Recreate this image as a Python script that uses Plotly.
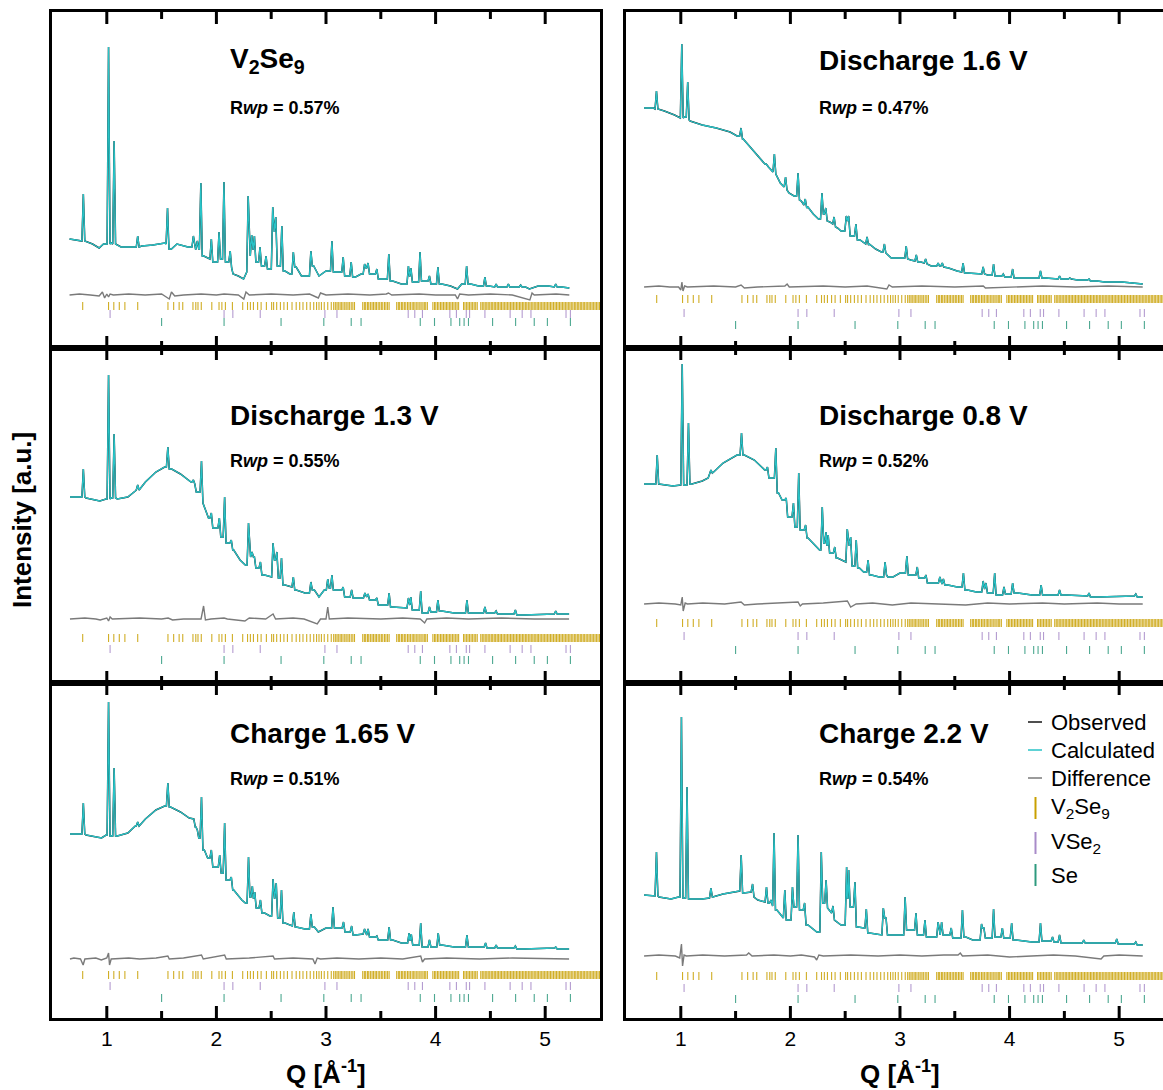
import plotly.graph_objects as go

# ---------------------------------------------------------------------------
# Reflection positions of the refined phases, Q in 1/Å
# ---------------------------------------------------------------------------
V2SE9_REFLECTIONS = [
    0.78, 1.016, 1.064, 1.114, 1.165, 1.282, 1.558, 1.61, 1.66, 1.693, 1.786, 1.812,
    1.832, 1.862, 1.958, 2.024, 2.05, 2.082, 2.146, 2.24, 2.284, 2.31, 2.338, 2.376,
    2.408, 2.456, 2.504, 2.522, 2.55, 2.584, 2.616, 2.648, 2.69, 2.728, 2.76, 2.79,
    2.824, 2.856, 2.888, 2.914, 2.936, 2.958, 2.984, 3.016, 3.048,
    3.07, 3.085, 3.10, 3.112, 3.128, 3.14, 3.155, 3.171, 3.184, 3.20, 3.213, 3.23,
    3.245, 3.26, 3.335, 3.35, 3.362, 3.378, 3.39, 3.405, 3.42, 3.433, 3.448, 3.46,
    3.476, 3.49, 3.505, 3.518, 3.534, 3.547, 3.562, 3.576, 3.645, 3.66, 3.672, 3.688,
    3.70, 3.715, 3.728, 3.744, 3.757, 3.77, 3.786, 3.80, 3.812, 3.828, 3.84, 3.856,
    3.868, 3.884, 3.897, 3.91, 3.925, 3.975, 3.99, 4.002, 4.017, 4.03, 4.045, 4.058,
    4.072, 4.086, 4.10, 4.113, 4.128, 4.14, 4.155, 4.168, 4.183, 4.196, 4.21, 4.255,
    4.268, 4.283, 4.296, 4.31, 4.324, 4.338, 4.352, 4.366, 4.38, 4.412, 4.426, 4.44,
    4.453, 4.467, 4.48, 4.494, 4.508, 4.521, 4.535, 4.548, 4.562, 4.575, 4.589, 4.602,
    4.616, 4.63, 4.643, 4.657, 4.67, 4.684, 4.697, 4.71, 4.724, 4.738, 4.751, 4.765,
    4.778, 4.792, 4.805, 4.819, 4.832, 4.846, 4.86, 4.873, 4.887, 4.90, 4.914, 4.927,
    4.94, 4.954, 4.968, 4.981, 4.995, 5.008, 5.022, 5.035, 5.049, 5.062, 5.076, 5.09,
    5.103, 5.117, 5.13, 5.144, 5.157, 5.171, 5.184, 5.198, 5.211, 5.225, 5.238, 5.252,
    5.266, 5.279, 5.293, 5.306, 5.32, 5.333, 5.347, 5.36, 5.374, 5.388, 5.401, 5.415,
    5.428, 5.442, 5.455, 5.469, 5.482, 5.496,
]
VSE2_REFLECTIONS = [1.03, 2.07, 2.15, 2.40, 2.99, 3.10, 3.75, 3.81, 3.88, 4.13, 4.19,
                    4.28, 4.31, 4.45, 4.68, 4.79, 4.87, 5.19, 5.23]
SE_REFLECTIONS = [1.50, 2.07, 2.59, 2.98, 3.23, 3.32, 3.86, 3.99, 4.14, 4.22, 4.26,
                  4.30, 4.52, 4.73, 4.90, 5.02, 5.23]

# ---------------------------------------------------------------------------
# Refinement profiles (intensity in a.u.)
#   *_BG    : background vertices (Q, I)
#   *_PEAKS : Bragg peaks (Q, top, base) or (Q, top, base left, base right)
#   *_DIFF  : difference curve vertices (Q, Iobs - Icalc)
# ---------------------------------------------------------------------------
PRISTINE_BG = [(0.66, 109), (0.76, 107), (0.87, 104), (0.93, 100), (0.97, 104), (1.04, 105),
               (1.13, 101), (1.22, 101), (1.32, 102), (1.42, 103), (1.53, 105), (1.59, 99),
               (1.64, 104), (1.74, 101), (1.81, 99), (1.885, 92), (1.93, 89), (1.985, 86),
               (2.046, 89), (2.10, 86), (2.152, 74), (2.20, 72), (2.248, 69), (2.27, 76),
               (2.37, 86), (2.424, 82), (2.478, 79), (2.568, 82), (2.626, 77), (2.67, 74),
               (2.728, 81), (2.776, 72), (2.824, 72), (2.888, 82), (2.936, 72), (3.0, 77),
               (3.086, 76), (3.186, 72), (3.27, 71), (3.32, 74), (3.416, 74), (3.512, 69),
               (3.608, 67), (3.688, 64), (3.81, 66), (3.896, 67), (3.976, 64), (4.056, 64),
               (4.136, 62), (4.20, 59), (4.238, 64), (4.32, 64), (4.392, 62), (4.488, 62),
               (4.60, 61), (4.72, 61), (4.82, 61), (4.856, 59), (4.936, 62), (5.03, 62),
               (5.15, 61), (5.22, 60)]
PRISTINE_PEAKS = [(0.786, 154, 107), (1.016, 301, 104), (1.067, 207, 104), (1.282, 112, 101),
                  (1.554, 140, 104, 99), (1.79, 112, 101), (1.826, 107, 99, 99),
                  (1.858, 165, 99, 92), (1.954, 109, 89, 86), (2.024, 116, 86, 89),
                  (2.069, 166, 89, 86), (2.126, 97, 86, 80), (2.29, 152, 76, 92),
                  (2.322, 113, 92, 98), (2.347, 112, 98, 86), (2.398, 101, 86, 82),
                  (2.453, 92, 82, 79), (2.514, 141, 79, 116), (2.542, 131, 116, 82),
                  (2.597, 122, 82, 77), (2.702, 96, 74, 81), (2.862, 97, 72, 82),
                  (3.054, 107, 77, 76), (3.157, 91, 76, 72), (3.23, 86, 72, 71),
                  (3.352, 84, 74, 80), (3.384, 85, 80, 74), (3.464, 79, 74, 69),
                  (3.573, 94, 69, 67), (3.752, 82, 64, 72), (3.775, 80, 72, 66),
                  (3.858, 96, 66, 67), (3.944, 72, 67, 64), (4.021, 81, 64, 64),
                  (4.283, 82, 64, 64), (4.45, 71, 62, 62), (4.552, 64, 61, 61),
                  (4.664, 64, 61, 61), (4.776, 63, 61, 61), (5.096, 64, 61, 61)]
PRISTINE_DIFF = [(0.66, 0), (0.75, 1), (0.85, 0), (0.93, -1), (0.96, 3), (0.98, -3), (1.0, 1),
                 (1.016, -2), (1.03, 1), (1.06, 0), (1.2, 1), (1.35, 0), (1.5, 1), (1.57, -4),
                 (1.59, 3), (1.62, -1), (1.7, 0), (1.86, 1), (2.0, 0), (2.07, 1), (2.2, 0),
                 (2.25, -4), (2.27, 3), (2.3, 0), (2.5, 1), (2.7, 0), (2.85, 1), (2.93, -3),
                 (2.95, 2), (3.0, 0), (3.2, 1), (3.4, 0), (3.55, 1), (3.57, 2), (3.6, 0),
                 (3.85, 1), (4.0, 0), (4.18, 0), (4.2, -4), (4.22, 1), (4.3, 0), (4.5, 1),
                 (4.7, 0), (4.86, -5), (4.88, 2), (4.9, 0), (5.1, 1), (5.22, 0)]

DIS16_BG = [(0.665, 240), (0.75, 240), (0.85, 237), (0.943, 233), (0.99, 230), (1.035, 231),
            (1.085, 227), (1.196, 223), (1.323, 220), (1.45, 216), (1.513, 212), (1.57, 209),
            (1.64, 200), (1.703, 192), (1.75, 187), (1.80, 181), (1.908, 165), (1.987, 155),
            (2.033, 152), (2.10, 147), (2.16, 141), (2.209, 134), (2.256, 129), (2.36, 126),
            (2.43, 120), (2.462, 117), (2.557, 112), (2.636, 108), (2.72, 104), (2.778, 99),
            (2.83, 96), (2.92, 90), (3.0, 90), (3.10, 88), (3.19, 86), (3.285, 82),
            (3.443, 80), (3.522, 77), (3.617, 75), (3.696, 74), (3.80, 73), (3.886, 72),
            (3.98, 71), (4.076, 70), (4.203, 70), (4.33, 70), (4.519, 69), (4.62, 68),
            (4.709, 68), (4.80, 67), (4.867, 66), (5.025, 66), (5.215, 64)]
DIS16_PEAKS = [(0.778, 257, 239), (1.009, 304, 230), (1.063, 266, 231, 228),
               (1.55, 220, 212, 209), (1.78, 184, 184, 182), (1.854, 194, 176, 174),
               (1.956, 171, 161, 158), (2.07, 175, 152, 148), (2.136, 149, 143, 140),
               (2.288, 155, 129, 134), (2.323, 140, 134, 127), (2.399, 131, 124, 121),
               (2.51, 132, 117, 127), (2.532, 132, 127, 112), (2.598, 124, 112, 108),
               (2.70, 111, 104, 103), (2.858, 104, 96, 95), (3.057, 102, 90, 89),
               (3.149, 93, 87, 86), (3.234, 89, 85, 84), (3.348, 85, 82, 82),
               (3.386, 85, 82, 81), (3.576, 85, 76, 75), (3.759, 81, 74, 74),
               (3.854, 84, 73, 72), (3.943, 74, 72, 71), (4.028, 79, 71, 70),
               (4.282, 77, 70, 70), (4.456, 72, 69, 69), (4.55, 70, 69, 69), (4.725, 69, 68, 67)]
DIS16_DIFF = [(0.665, 0), (0.8, 1), (0.9, 0), (0.98, 0), (1.0, -3), (1.01, 5), (1.02, -4),
              (1.035, 1), (1.06, 0), (1.3, 1), (1.5, 0), (1.55, 2), (1.58, -1), (1.7, 0),
              (1.95, 1), (1.97, 3), (1.99, 0), (2.3, 1), (2.5, 0), (2.7, 1), (2.88, -2),
              (2.9, 2), (2.93, 0), (3.2, 1), (3.5, 0), (3.76, 1), (3.78, -1), (4.0, 0),
              (4.3, 1), (4.6, 0), (4.9, 1), (5.215, 0)]

DIS13_BG = [(0.664, 186), (0.76, 186), (0.81, 185), (0.936, 182), (0.994, 184), (1.04, 185),
            (1.096, 184), (1.192, 186), (1.26, 192), (1.352, 201), (1.448, 211), (1.528, 216),
            (1.592, 214), (1.672, 209), (1.768, 201), (1.816, 191), (1.928, 165), (1.986, 155),
            (2.05, 146), (2.104, 140), (2.158, 133), (2.216, 123), (2.264, 118), (2.376, 115),
            (2.44, 108), (2.488, 106), (2.568, 105), (2.626, 98), (2.68, 96), (2.728, 93),
            (2.808, 90), (2.894, 93), (2.936, 86), (2.984, 93), (3.086, 93), (3.192, 86),
            (3.272, 85), (3.416, 83), (3.512, 78), (3.608, 76), (3.688, 75), (3.816, 73),
            (3.906, 70), (3.976, 71), (4.056, 72), (4.168, 70), (4.328, 70), (4.392, 70),
            (4.504, 70), (4.648, 69), (4.808, 68), (4.968, 69), (5.218, 69)]
DIS13_PEAKS = [(0.786, 214, 186), (1.016, 308, 184), (1.067, 249, 185), (1.282, 198, 193),
               (1.557, 236, 216, 214), (1.79, 203, 201, 199), (1.864, 222, 191, 180),
               (1.954, 170, 165, 155), (2.027, 165, 155, 146), (2.075, 186, 146, 140),
               (2.136, 143, 140, 133), (2.293, 160, 118, 126), (2.325, 131, 126, 126),
               (2.347, 126, 126, 115), (2.402, 121, 115, 108), (2.517, 140, 106, 123),
               (2.552, 131, 123, 105), (2.594, 125, 105, 98), (2.702, 106, 96, 93),
               (2.862, 101, 90, 93), (3.016, 104, 93, 95), (3.054, 108, 95, 93),
               (3.157, 96, 93, 86), (3.234, 93, 86, 85), (3.355, 90, 85, 86),
               (3.384, 89, 86, 83), (3.464, 85, 83, 78), (3.576, 90, 78, 76),
               (3.752, 85, 75, 78), (3.774, 86, 78, 73), (3.864, 92, 73, 70),
               (3.944, 76, 70, 71), (4.021, 83, 71, 72), (4.286, 83, 70, 70),
               (4.45, 76, 70, 70), (4.552, 72, 70, 69), (4.728, 73, 69, 68), (5.096, 72, 69, 69)]
DIS13_DIFF = [(0.664, 0), (0.8, 1), (0.9, 0), (0.94, -1), (1.0, 1), (1.016, -2), (1.03, 2),
              (1.05, 0), (1.3, 1), (1.5, 0), (1.56, 1), (1.6, -1), (1.7, 0), (1.86, 0),
              (1.883, 13), (1.9, -1), (1.95, 0), (2.07, 1), (2.1, 0), (2.26, -2), (2.3, 1),
              (2.45, 0), (2.517, 5), (2.54, 0), (2.7, 1), (2.8, 0), (2.92, -5), (2.95, 0),
              (3.0, 0), (3.016, 12), (3.03, 0), (3.2, 1), (3.5, 0), (3.7, 1), (3.86, 0),
              (3.9, -4), (3.92, 0), (4.1, 1), (4.3, 0), (4.6, 1), (4.9, 0), (5.218, 0)]

DIS08_BG = [(0.665, 199), (0.753, 199), (0.80, 199), (0.927, 197), (0.99, 198), (1.04, 198),
            (1.101, 199), (1.196, 202), (1.25, 205), (1.30, 211), (1.386, 220), (1.513, 228),
            (1.58, 228), (1.671, 223), (1.766, 213), (1.892, 190), (1.924, 183), (1.987, 166),
            (2.05, 156), (2.098, 153), (2.161, 145), (2.225, 137), (2.266, 133), (2.367, 130),
            (2.43, 125), (2.494, 121), (2.573, 117), (2.63, 115), (2.668, 111), (2.74, 108),
            (2.81, 106), (2.889, 106), (2.937, 106), (3.0, 110), (3.095, 108), (3.19, 105),
            (3.285, 100), (3.437, 98), (3.522, 96), (3.617, 93), (3.696, 91), (3.823, 90),
            (3.902, 88), (3.981, 89), (4.076, 90), (4.203, 88), (4.33, 88), (4.519, 88),
            (4.65, 87), (4.804, 86), (5.025, 87), (5.215, 86)]
DIS08_PEAKS = [(0.785, 228, 199), (1.013, 319, 198), (1.07, 260, 198, 199), (1.275, 213, 208, 210),
               (1.554, 250, 228), (1.791, 216, 213, 205), (1.867, 235, 205, 190),
               (1.962, 185, 183, 166), (2.028, 180, 166, 156), (2.076, 210, 156, 153),
               (2.139, 158, 153, 145), (2.291, 176, 133, 140), (2.326, 151, 140, 138),
               (2.345, 148, 138, 130), (2.405, 136, 130, 125), (2.519, 154, 121, 137),
               (2.55, 146, 137, 117), (2.601, 143, 117, 115), (2.709, 123, 111, 108),
               (2.864, 121, 106, 108), (3.063, 127, 110, 108), (3.158, 116, 108, 105),
               (3.237, 108, 105, 100), (3.364, 106, 100, 99), (3.396, 104, 99, 98),
               (3.579, 110, 96, 93), (3.759, 102, 91, 94), (3.785, 100, 94, 90),
               (3.864, 110, 90, 88), (3.949, 96, 88, 89), (4.028, 100, 89, 90),
               (4.288, 98, 88, 88), (4.456, 93, 88, 88), (4.725, 90, 87, 86), (5.152, 89, 87, 86)]
DIS08_DIFF = [(0.665, 0), (0.8, 1), (0.95, 0), (1.0, -1), (1.013, 7), (1.022, -7), (1.04, 1),
              (1.06, 0), (1.2, 1), (1.4, 0), (1.55, 2), (1.58, -1), (1.7, 0), (1.9, 1),
              (2.07, 2), (2.09, -2), (2.11, 0), (2.3, 1), (2.52, 3), (2.55, -3), (2.6, 0),
              (2.75, 1), (2.93, -1), (3.1, 1), (3.3, 0), (3.6, -1), (3.8, 1), (4.0, 0),
              (4.3, 1), (4.5, 0), (4.8, 1), (5.0, 0), (5.215, 0)]

CHG165_BG = [(0.664, 184), (0.76, 184), (0.81, 183), (0.952, 180), (0.994, 183), (1.04, 182),
             (1.096, 182), (1.192, 185), (1.26, 192), (1.352, 199), (1.448, 208), (1.528, 212),
             (1.582, 211), (1.672, 206), (1.752, 200), (1.89, 168), (1.92, 160), (1.992, 151),
             (2.05, 145), (2.104, 138), (2.158, 128), (2.232, 118), (2.264, 115), (2.376, 110),
             (2.44, 105), (2.488, 102), (2.568, 100), (2.626, 95), (2.68, 92), (2.728, 91),
             (2.808, 89), (2.894, 91), (2.93, 86), (3.0, 90), (3.096, 90), (3.186, 86),
             (3.272, 83), (3.416, 81), (3.512, 78), (3.608, 78), (3.688, 75), (3.816, 73),
             (3.906, 71), (3.976, 71), (4.056, 73), (4.168, 71), (4.32, 71), (4.392, 71),
             (4.504, 70), (4.648, 70), (4.808, 69), (4.968, 70), (5.218, 69)]
CHG165_PEAKS = [(0.786, 215, 184), (1.016, 316, 183, 182), (1.067, 250, 182), (1.282, 196, 192),
                (1.557, 235, 212, 211), (1.794, 199, 199, 191), (1.826, 188, 191, 180),
                (1.864, 221, 180, 168), (1.954, 168, 160, 151), (2.03, 163, 151, 145),
                (2.075, 195, 145, 138), (2.136, 141, 138, 128), (2.293, 161, 115, 121),
                (2.328, 132, 121, 120), (2.35, 126, 120, 110), (2.402, 118, 110, 105),
                (2.517, 139, 102, 120), (2.546, 135, 120, 100), (2.594, 128, 100, 95),
                (2.706, 106, 92, 91), (2.862, 104, 89, 91), (3.064, 111, 90, 90),
                (3.16, 96, 90, 86), (3.234, 92, 86, 83), (3.352, 89, 84, 83),
                (3.384, 89, 83, 81), (3.464, 82, 81, 78), (3.576, 91, 78, 78),
                (3.758, 85, 75, 78), (3.778, 84, 78, 73), (3.864, 95, 73, 71),
                (3.944, 78, 71, 71), (4.024, 85, 71, 73), (4.286, 83, 71, 71),
                (4.456, 75, 71, 70), (4.552, 73, 70, 70), (4.728, 72, 70, 69), (5.096, 71, 70, 69)]
CHG165_DIFF = [(0.664, 0), (0.7, 1), (0.76, 0), (0.784, -6), (0.80, 0), (0.9, 1), (0.95, -1),
               (1.0, 1), (1.016, 6), (1.025, -6), (1.04, 0), (1.2, 1), (1.3, 0), (1.45, 1),
               (1.557, 3), (1.57, 0), (1.7, 1), (1.864, 4), (1.88, 0), (2.075, 4), (2.09, 0),
               (2.3, 1), (2.517, 3), (2.53, 0), (2.7, 1), (2.88, 0), (2.9, -5), (2.92, 1),
               (2.95, 0), (3.1, 1), (3.3, 0), (3.5, 1), (3.7, 0), (3.864, 3), (3.88, -3),
               (3.9, 0), (4.1, 1), (4.4, 0), (4.7, 1), (5.0, 0), (5.218, 0)]

CHG22_BG = [(0.665, 123), (0.753, 122), (0.80, 121), (0.911, 119), (0.98, 121), (1.032, 120),
            (1.085, 119), (1.196, 119), (1.291, 121), (1.386, 124), (1.513, 127), (1.576, 125),
            (1.62, 126), (1.703, 118), (1.804, 115), (1.877, 108), (1.987, 98), (2.161, 93),
            (2.241, 86), (2.462, 93), (2.62, 91), (2.668, 90), (2.722, 85), (2.81, 83),
            (2.911, 83), (2.968, 83), (3.079, 88), (3.177, 83), (3.269, 81), (3.411, 83),
            (3.522, 80), (3.601, 81), (3.664, 78), (3.807, 80), (3.892, 81), (3.965, 80),
            (4.06, 78), (4.203, 76), (4.32, 77), (4.519, 75), (4.788, 75), (5.089, 74),
            (5.215, 73)]
CHG22_PEAKS = [(0.778, 166, 122), (1.006, 301, 121, 120), (1.057, 231, 120, 119),
               (1.275, 130, 120, 121), (1.551, 163, 127, 125), (1.655, 134, 126, 121),
               (1.782, 131, 116, 115), (1.823, 118, 115, 112), (1.851, 185, 112, 108),
               (1.949, 128, 100, 98), (2.019, 131, 98, 111), (2.07, 183, 111, 108),
               (2.13, 115, 108, 93), (2.282, 166, 86, 115), (2.326, 138, 115, 110),
               (2.389, 112, 105, 98), (2.513, 151, 93, 120), (2.532, 148, 120, 111),
               (2.589, 136, 111, 91), (2.693, 109, 90, 85), (2.848, 110, 83, 100),
               (2.873, 100, 100, 83), (3.047, 121, 83, 88), (3.146, 105, 88, 83),
               (3.228, 98, 83, 81), (3.348, 96, 81, 83), (3.38, 96, 83, 83),
               (3.468, 90, 83, 80), (3.57, 108, 80, 81), (3.744, 94, 78, 90),
               (3.766, 90, 90, 80), (3.854, 109, 80, 81), (3.934, 90, 81, 80),
               (4.019, 95, 80, 78), (4.282, 95, 76, 77), (4.392, 81, 77, 76),
               (4.456, 83, 76, 75), (4.677, 78, 75, 75), (4.978, 79, 75, 74), (5.152, 76, 74, 73)]
CHG22_DIFF = [(0.665, 0), (0.8, 1), (0.95, 0), (0.99, -2), (1.006, 12), (1.016, -10), (1.03, 1),
              (1.05, 0), (1.2, 1), (1.4, 0), (1.6, 1), (1.62, 3), (1.65, 0), (1.85, 1),
              (2.0, 0), (2.1, 1), (2.22, -1), (2.24, -4), (2.26, 1), (2.3, 0), (2.55, 1),
              (2.8, 0), (3.0, 1), (3.2, 0), (3.4, 1), (3.53, 1), (3.55, 3), (3.57, 0),
              (3.8, 1), (4.0, -1), (4.2, 0), (4.4, 1), (4.6, 0), (4.835, -3), (4.86, 0),
              (5.0, 1), (5.215, 0)]

PANEL_LABELS = ["V<sub>2</sub>Se<sub>9</sub>", "Discharge 1.6 V", "Discharge 1.3 V",
                "Discharge 0.8 V", "Charge 1.65 V", "Charge 2.2 V"]
RWP_PERCENT = [0.57, 0.47, 0.55, 0.52, 0.51, 0.54]
MAJOR_TICKS = [1, 2, 3, 4, 5]
MINOR_TICKS = [1.5, 2.5, 3.5, 4.5]

BACKGROUNDS = [PRISTINE_BG, DIS16_BG, DIS13_BG, DIS08_BG, CHG165_BG, CHG22_BG]
PEAK_LISTS = [PRISTINE_PEAKS, DIS16_PEAKS, DIS13_PEAKS, DIS08_PEAKS, CHG165_PEAKS, CHG22_PEAKS]
DIFFERENCES = [PRISTINE_DIFF, DIS16_DIFF, DIS13_DIFF, DIS08_DIFF, CHG165_DIFF, CHG22_DIFF]

# ---------------------------------------------------------------------------
# Page geometry and styling
# ---------------------------------------------------------------------------
W, H = 1163, 1090
FONT = "Liberation Sans, Arial, sans-serif"
C_OBS = "#151515"
C_CALC = "#28C3C7"
C_DIFF = "#7a7a7a"
C_V2SE9 = "#C9A000"
C_VSE2 = "#A88BC9"
C_SE = "#2E9A7E"

COL_PX = [(52, 600), (626, 1163)]
ROW_PX = [(12, 348), (348, 683), (683, 1018)]
X_RANGES = [(0.5, 5.5), (0.5, 5.4)]
PEAK_HALF_WIDTH = 0.013
TICK_HALF = 4
MAJOR_LEN, MINOR_LEN = 12, 7   # frame tick lengths in pixels

# vertical placement (a.u.) of the difference curve and reflection rows
OFFSETS = [
    dict(diff=53, v2se9=42, vse2=34, se=26),
    dict(diff=61, v2se9=49, vse2=35, se=23),
    dict(diff=64, v2se9=45, vse2=34, se=23),
    dict(diff=79, v2se9=60, vse2=47, se=33),
    dict(diff=59, v2se9=43, vse2=32, se=20),
    dict(diff=62, v2se9=42, vse2=30, se=19),
]
TITLE_Y_PX = [(60, 108), (415, 461), (733, 779)]
TITLE_X_PX = [228, 817]


def px_x(x):
    return x / W


def px_y(y):
    return 1 - y / H


def build_profile(background, peaks, hw):
    """Join background vertices and peak apexes into one polyline."""
    centres = [p[0] for p in peaks]
    pts = [(q, i) for q, i in background if all(abs(q - c) > 1.2 * hw for c in centres)]
    for p in peaks:
        q, top, left = p[0], p[1], p[2]
        right = p[3] if len(p) > 3 else p[2]
        pts += [(q - hw, left), (q, top), (q + hw, right)]
    pts.sort()
    return [a for a, _ in pts], [b for _, b in pts]


def tick_segments(positions, centre, half):
    xs, ys = [], []
    for q in positions:
        xs += [q, q, None]
        ys += [centre - half, centre + half, None]
    return xs, ys


fig = go.Figure()
layout_axes = {}
annotations = []
shapes = []

for k in range(6):
    row, col = divmod(k, 2)
    suffix = "" if k == 0 else str(k + 1)
    xref, yref = "x" + suffix, "y" + suffix
    off = OFFSETS[k]
    x0, x1 = COL_PX[col]
    y0, y1 = ROW_PX[row]
    panel_h = y1 - y0

    q, calc = build_profile(BACKGROUNDS[k], PEAK_LISTS[k], PEAK_HALF_WIDTH)
    fig.add_trace(go.Scatter(x=q, y=calc, mode="lines", xaxis=xref, yaxis=yref,
                             line=dict(color=C_OBS, width=1.5), hoverinfo="skip"))
    fig.add_trace(go.Scatter(x=q, y=calc, mode="lines", xaxis=xref, yaxis=yref,
                             line=dict(color=C_CALC, width=1.3), hoverinfo="skip"))

    dq = [d[0] for d in DIFFERENCES[k]]
    dv = [off["diff"] + d[1] for d in DIFFERENCES[k]]
    fig.add_trace(go.Scatter(x=dq, y=dv, mode="lines", xaxis=xref, yaxis=yref,
                             line=dict(color=C_DIFF, width=1.4), hoverinfo="skip"))

    for refl, key, colr in ((V2SE9_REFLECTIONS, "v2se9", C_V2SE9),
                            (VSE2_REFLECTIONS, "vse2", C_VSE2),
                            (SE_REFLECTIONS, "se", C_SE)):
        tx, ty = tick_segments(refl, off[key], TICK_HALF)
        fig.add_trace(go.Scatter(x=tx, y=ty, mode="lines", xaxis=xref, yaxis=yref,
                                 line=dict(color=colr, width=1.1), opacity=0.85,
                                 hoverinfo="skip"))

    # inward frame ticks along bottom and top edges (page-pixel placement)
    r0, r1 = X_RANGES[col]
    for vals, length in ((MAJOR_TICKS, MAJOR_LEN), (MINOR_TICKS, MINOR_LEN)):
        for v in vals:
            xp = x0 + (v - r0) / (r1 - r0) * (x1 - x0)
            for ya, yb in ((y1 - length, y1), (y0, y0 + length)):
                shapes.append(dict(type="line", xref="paper", yref="paper",
                                   x0=px_x(xp), x1=px_x(xp), y0=px_y(ya), y1=px_y(yb),
                                   line=dict(color="black", width=3)))

    bottom = row == 2
    layout_axes["xaxis" + suffix] = dict(
        domain=[px_x(x0), px_x(x1)], range=[r0, r1], anchor=yref,
        showline=True, linecolor="black", linewidth=2.5, mirror=True,
        ticks="", tickmode="array", tickvals=MAJOR_TICKS,
        showticklabels=bottom,
        tickfont=dict(family=FONT, size=21, color="black"),
        showgrid=False, zeroline=False, fixedrange=True,
    )
    layout_axes["yaxis" + suffix] = dict(
        domain=[px_y(y1), px_y(y0)], range=[0, panel_h], anchor=xref,
        showline=True, linecolor="black", linewidth=2.5, mirror=(col == 0),
        ticks="", showticklabels=False, showgrid=False, zeroline=False, fixedrange=True,
    )

    tx_px = TITLE_X_PX[col]
    ty_title, ty_rwp = TITLE_Y_PX[row]
    annotations.append(dict(text="<b>%s</b>" % PANEL_LABELS[k], x=px_x(tx_px), y=px_y(ty_title),
                            xref="paper", yref="paper", xanchor="left", yanchor="middle",
                            showarrow=False, font=dict(family=FONT, size=28, color="black")))
    annotations.append(dict(text="<b>R<i>wp</i> = %.2f%%</b>" % RWP_PERCENT[k],
                            x=px_x(tx_px), y=px_y(ty_rwp), xref="paper", yref="paper",
                            xanchor="left", yanchor="middle", showarrow=False,
                            font=dict(family=FONT, size=18, color="black")))

# axis titles
for k in (4, 5):
    annotations.append(dict(text="<b>Q [Å<sup>-1</sup>]</b>", x=3, y=px_y(1072),
                            xref="x%d" % (k + 1), yref="paper", xanchor="center",
                            yanchor="middle", showarrow=False,
                            font=dict(family=FONT, size=26, color="black")))
annotations.append(dict(text="<b>Intensity [a.u.]</b>", x=px_x(22), y=px_y(520),
                        xref="paper", yref="paper", textangle=-90, showarrow=False,
                        xanchor="center", yanchor="middle",
                        font=dict(family=FONT, size=26, color="black")))

# legend in the last panel
LEGEND_ITEMS = [("Observed", C_OBS, "h", 722), ("Calculated", C_CALC, "h", 750),
                ("Difference", C_DIFF, "h", 778), ("V<sub>2</sub>Se<sub>9</sub>", C_V2SE9, "v", 808),
                ("VSe<sub>2</sub>", C_VSE2, "v", 843), ("Se", C_SE, "v", 875)]
for label, colr, kind, yy in LEGEND_ITEMS:
    if kind == "h":
        shapes.append(dict(type="line", xref="paper", yref="paper",
                           x0=px_x(1028), x1=px_x(1042), y0=px_y(yy), y1=px_y(yy),
                           line=dict(color=colr, width=1.5)))
    else:
        shapes.append(dict(type="line", xref="paper", yref="paper",
                           x0=px_x(1035.5), x1=px_x(1035.5), y0=px_y(yy - 11), y1=px_y(yy + 11),
                           line=dict(color=colr, width=2)))
    annotations.append(dict(text=label, x=px_x(1049), y=px_y(yy), xref="paper", yref="paper",
                            xanchor="left", yanchor="middle", showarrow=False,
                            font=dict(family=FONT, size=22, color="black")))

fig.update_layout(
    width=W, height=H, margin=dict(l=0, r=0, t=0, b=0),
    paper_bgcolor="white", plot_bgcolor="white",
    showlegend=False, hovermode=False,
    annotations=annotations, shapes=shapes,
    **layout_axes,
)

fig.write_html("out.html", config=dict(displayModeBar=False))
